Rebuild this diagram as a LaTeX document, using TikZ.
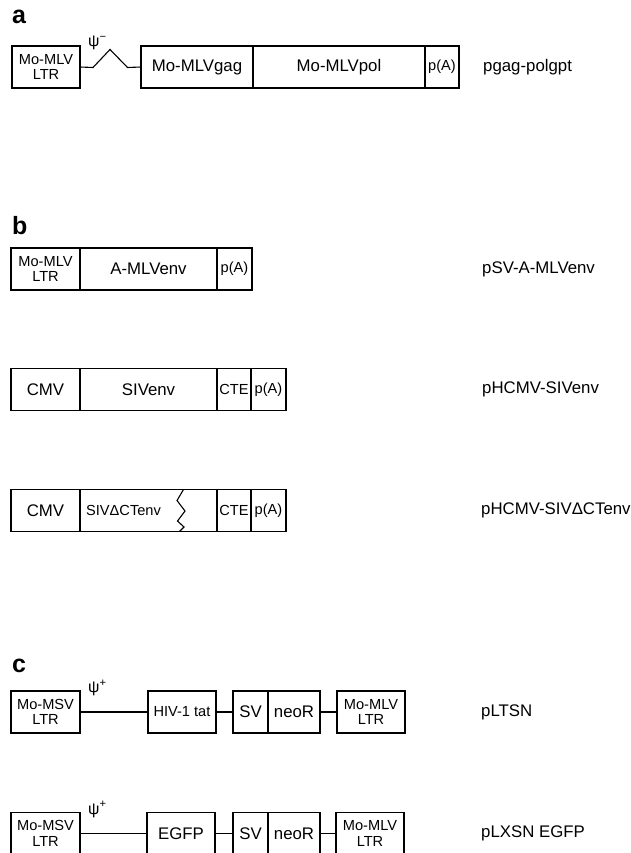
\documentclass[tikz,border=0pt]{standalone}
\usepackage{fontspec}
\setmainfont{Liberation Sans}
\begin{document}
\begin{tikzpicture}[x=1pt,y=-1pt,
  box/.style={draw, line width=1.1pt, inner sep=0pt, outer sep=0pt, minimum height=42pt, anchor=center, font=\fontsize{16.8}{19}\selectfont},
  sm/.style={font=\fontsize{14.6}{15.5}\selectfont, align=center},
  lbl/.style={anchor=west, inner sep=0pt, font=\fontsize{16.8}{19}\selectfont},
  smtxt/.style={anchor=west, inner sep=0pt, font=\fontsize{14.6}{15.5}\selectfont},
  panel/.style={anchor=base west, inner sep=0pt, font=\fontsize{25}{25}\selectfont\bfseries},
  psi/.style={anchor=west, inner sep=0pt, font=\fontsize{16}{17}\selectfont},
  wire/.style={line width=1.1pt}]
\useasboundingbox (0,0) rectangle (631,853);

% ---------- panel a ----------
\node[panel] (pa) at (12,24) {a};
\node[box, sm, minimum width=68] (ltrA) at (46,67) {Mo-MLV\\LTR};
\node[box, minimum width=112] (gag) at (197,67) {Mo-MLVgag};
\node[box, minimum width=172] (pol) at (339,67) {Mo-MLVpol};
\node[box, sm, minimum width=34] (pAa) at (442,67) {p(A)};
\coordinate (za1) at (93,67.5);
\coordinate (za2) at (110,49.5);
\coordinate (za3) at (127.5,67.5);
\draw[wire] (ltrA.east) -- (za1) -- (za2) -- (za3) -- (gag.west);
\node[psi] (psiA) at (88,43) {ψ\textsuperscript{−}};
\node[lbl] (labA) at (483,67) {pgag-polgpt};

% ---------- panel b ----------
\node[panel] (pb) at (12,234) {b};
% row b1
\node[box, sm, minimum width=69] (ltrB) at (45.5,269) {Mo-MLV\\LTR};
\node[box, minimum width=137] (amlv) at (148.5,269) {A-MLVenv};
\node[box, sm, minimum width=35] (pAb) at (234.5,269) {p(A)};
\node[lbl] (labB1) at (482,269) {pSV-A-MLVenv};
% row b2
\node[box, minimum width=69] (cmv2) at (45.5,389.5) {CMV};
\node[box, minimum width=137] (siv2) at (148.5,389.5) {SIVenv};
\node[box, sm, minimum width=34] (cte2) at (234,389.5) {CTE};
\node[box, sm, minimum width=35] (pA2) at (268.5,389.5) {p(A)};
\node[lbl] (labB2) at (482,389.5) {pHCMV-SIVenv};
% row b3
\node[box, minimum width=69] (cmv3) at (45.5,510.5) {CMV};
\node[box, minimum width=137] (siv3) at (148.5,510.5) {};
\node[smtxt] (siv3t) at (86,510.5) {SIVΔCTenv};
\node[box, sm, minimum width=34] (cte3) at (234,510.5) {CTE};
\node[box, sm, minimum width=35] (pA3) at (268.5,510.5) {p(A)};
\draw[wire] (183.5,489.5) -- (177,500.5) -- (185,511) -- (177.5,521) -- (184,527) -- (179.5,531.5);
\node[lbl] (labB3) at (481,510.5) {pHCMV-SIVΔCTenv};

% ---------- panel c ----------
\node[panel] (pc) at (12,672) {c};
% row c1
\node[box, sm, minimum width=69] (msv1) at (45.5,712) {Mo-MSV\\LTR};
\node[box, sm, minimum width=68] (tat) at (182,712) {HIV-1 tat};
\node[box, minimum width=35] (sv1) at (250.5,712) {SV};
\node[box, minimum width=52] (neo1) at (294,712) {neoR};
\node[box, sm, minimum width=68] (mlv1) at (371,712) {Mo-MLV\\LTR};
\draw[wire] (msv1.east) -- (tat.west);
\draw[wire] (tat.east) -- (sv1.west);
\draw[wire] (neo1.east) -- (mlv1.west);
\node[psi] (psiC1) at (88,688) {ψ\textsuperscript{+}};
\node[lbl] (labC1) at (481,712) {pLTSN};
% row c2
\node[box, sm, minimum width=69] (msv2) at (45.5,833.5) {Mo-MSV\\LTR};
\node[box, minimum width=68] (egfp) at (181,833.5) {EGFP};
\node[box, minimum width=35] (sv2) at (250.5,833.5) {SV};
\node[box, minimum width=52] (neo2) at (294,833.5) {neoR};
\node[box, sm, minimum width=68] (mlv2) at (370,833.5) {Mo-MLV\\LTR};
\draw[wire] (msv2.east) -- (egfp.west);
\draw[wire] (egfp.east) -- (sv2.west);
\draw[wire] (neo2.east) -- (mlv2.west);
\node[psi] (psiC2) at (88,809.5) {ψ\textsuperscript{+}};
\node[lbl] (labC2) at (481,833.5) {pLXSN EGFP};
\end{tikzpicture}
\end{document}
